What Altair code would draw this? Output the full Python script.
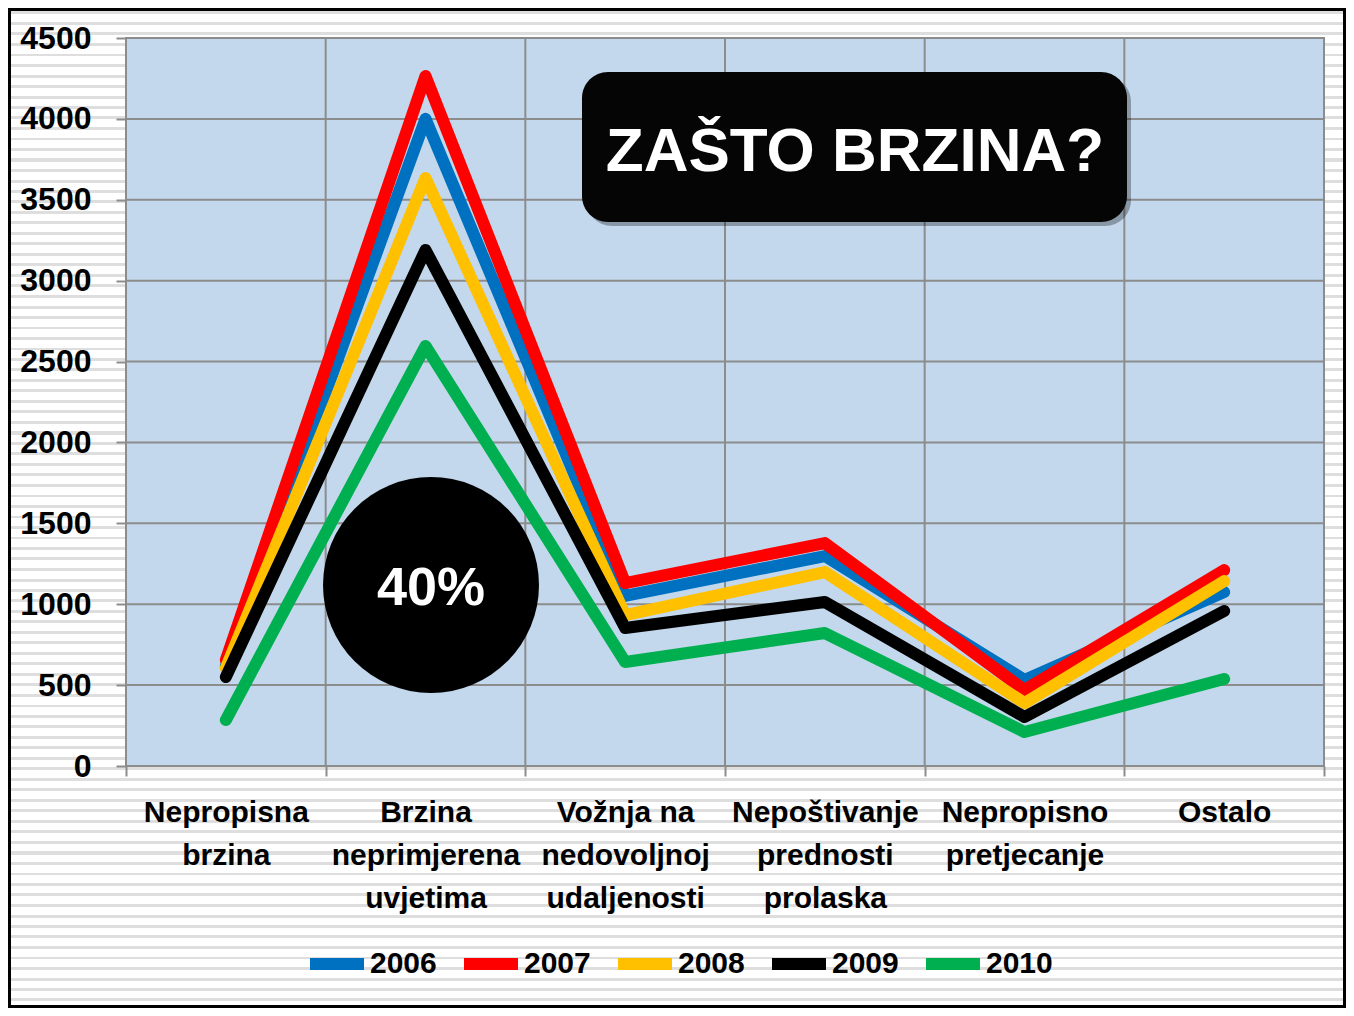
import altair as alt
import pandas as pd

# ---------------- data ----------------
categories = [
    "Nepropisna\nbrzina",
    "Brzina\nneprimjerena\nuvjetima",
    "Vožnja na\nnedovoljnoj\nudaljenosti",
    "Nepoštivanje\nprednosti\nprolaska",
    "Nepropisno\npretjecanje",
    "Ostalo",
]
years = ["2006", "2007", "2008", "2009", "2010"]
v2006 = [618, 4000, 1051, 1298, 532, 1075]
v2007 = [655, 4265, 1131, 1378, 470, 1211]
v2008 = [605, 3634, 933, 1199, 389, 1143]
v2009 = [550, 3190, 853, 1014, 303, 958]
v2010 = [284, 2596, 643, 822, 210, 538]
y_ticks = [0, 500, 1000, 1500, 2000, 2500, 3000, 3500, 4000, 4500]
colors = ["#0070C0", "#FF0000", "#FFC000", "#000000", "#00B050"]
title_text = "ZAŠTO BRZINA?"
circle_text = "40%"

series = [v2006, v2007, v2008, v2009, v2010]
rows = []
for yr, vals in zip(years, series):
    for c, v in zip(categories, vals):
        rows.append({"cat": c, "year": yr, "value": v})
df = pd.DataFrame(rows)
grid_df = pd.DataFrame({"y": y_ticks})
cat_df = pd.DataFrame({"cat": categories})
one = pd.DataFrame({"a": [0]})

W, H = 1198, 728
PL, PT, PR, PB = 118, 30, 22, 242
FONT = '"Liberation Sans", Arial, sans-serif'
GRID = "#8c8c8c"

# striped background gradient (style only)
total_h = PT + H + PB - 3
period = 10.5
stops = [alt.GradientStop(offset=0, color="#ffffff")]
pos = 2.0
while pos + 3 < total_h:
    a = pos / total_h
    b = (pos + 3) / total_h
    stops += [
        alt.GradientStop(offset=a, color="#ffffff"),
        alt.GradientStop(offset=a, color="#dedede"),
        alt.GradientStop(offset=b, color="#dedede"),
        alt.GradientStop(offset=b, color="#ffffff"),
    ]
    pos += period
stops.append(alt.GradientStop(offset=1, color="#ffffff"))
stripes = alt.LinearGradient(gradient="linear", stops=stops, x1=0, y1=0, x2=0, y2=1)

xscale = alt.Scale(type="band", paddingInner=0, paddingOuter=0, domain=categories)
yscale = alt.Scale(domain=[0, 4500], nice=False, zero=True)

bg = alt.Chart(one).mark_rect(fill=stripes, stroke="#000000", strokeWidth=3).encode(
    x=alt.value(-PL + 1.5), x2=alt.value(W + PR - 1.5),
    y=alt.value(-PT + 1.5), y2=alt.value(H + PB - 1.5),
)
plotbg = alt.Chart(one).mark_rect(fill="#C3D8EC", stroke=GRID, strokeWidth=2).encode(
    x=alt.value(0), x2=alt.value(W), y=alt.value(0), y2=alt.value(H)
)
hgrid = alt.Chart(grid_df).mark_rule(color=GRID, strokeWidth=2).encode(
    y=alt.Y("y:Q", scale=yscale),
)
vgrid = alt.Chart(cat_df).mark_rule(color=GRID, strokeWidth=2).encode(
    x=alt.X("cat:N", scale=xscale, bandPosition=0, sort=categories),
)

lines = alt.Chart(df).mark_line(strokeWidth=12, strokeCap="round", strokeJoin="round").encode(
    x=alt.X(
        "cat:N", scale=xscale, sort=categories,
        axis=alt.Axis(
            title=None, labelAngle=0, labelExpr="split(datum.label, '\\n')",
            labelAlign="center",
            labelFont=FONT, labelFontWeight="bold", labelFontSize=30, labelColor="#000000",
            labelLineHeight=43, labelBaseline="top", labelPadding=21, labelLimit=400,
            tickBand="extent", tickSize=10, tickColor=GRID, tickWidth=2,
            domain=False, grid=False, zindex=1,
        ),
    ),
    y=alt.Y(
        "value:Q", scale=yscale,
        axis=alt.Axis(
            title=None, values=y_ticks, format="d", labelFont=FONT, labelFontWeight="bold",
            labelFontSize=32, labelColor="#000000", labelPadding=25,
            tickSize=10, tickColor=GRID, tickWidth=2, domain=False, grid=False, zindex=1,
        ),
    ),
    color=alt.Color(
        "year:N", scale=alt.Scale(domain=years, range=colors),
        legend=alt.Legend(
            title=None, orient="none", direction="horizontal", legendX=178, legendY=893,
            symbolType="stroke", symbolSize=2916, symbolStrokeWidth=12,
            labelFont=FONT, labelFontWeight="bold", labelFontSize=30, labelColor="#000000",
            labelOffset=0, columnPadding=3,
        ),
    ),
    order=alt.Order("year:N"),
)

shadow = alt.Chart(one).mark_rect(cornerRadius=26, fill="#000000", opacity=0.3).encode(
    x=alt.value(460), x2=alt.value(1005), y=alt.value(38), y2=alt.value(188)
)
box = alt.Chart(one).mark_rect(cornerRadius=26, fill="#050505").encode(
    x=alt.value(456), x2=alt.value(1001), y=alt.value(34), y2=alt.value(184)
)
box_text = alt.Chart(one).mark_text(
    text=title_text, font=FONT, fontWeight="bold", fontSize=62, color="#ffffff",
    align="center", baseline="middle",
).encode(x=alt.value(729), y=alt.value(114))

circle = alt.Chart(one).mark_circle(size=46656, color="#000000", opacity=1).encode(
    x=alt.value(305), y=alt.value(547)
)
circle_lbl = alt.Chart(one).mark_text(
    text=circle_text, font=FONT, fontWeight="bold", fontSize=54, color="#ffffff",
    align="center", baseline="middle",
).encode(x=alt.value(305), y=alt.value(551))

chart = alt.layer(
    bg, plotbg, hgrid, vgrid, lines, shadow, box, box_text, circle, circle_lbl
).properties(
    width=W, height=H,
    autosize=alt.AutoSizeParams(type="none"),
    padding={"left": PL, "top": PT, "right": PR, "bottom": PB},
).configure_view(stroke=None)

chart.save("out.html", embed_options={"renderer": "svg", "actions": False})
